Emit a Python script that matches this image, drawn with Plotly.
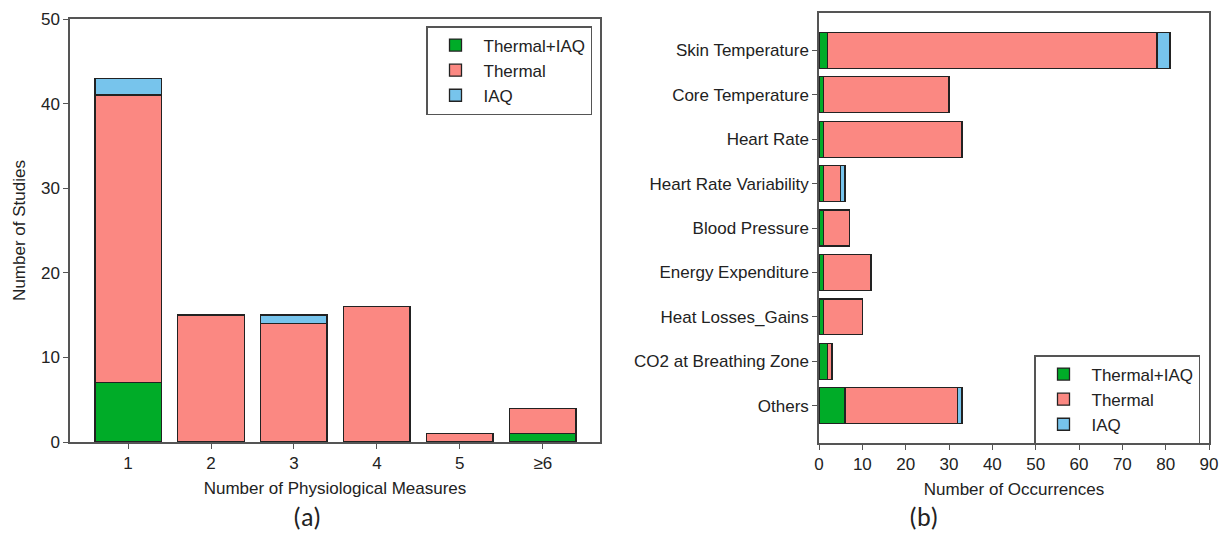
import plotly.graph_objects as go

# ---- data (a) ----
measures = ["1", "2", "3", "4", "5", "≥6"]
a_thermal_iaq = [7, 0, 0, 0, 0, 1]
a_thermal = [34, 15, 14, 16, 1, 3]
a_iaq = [2, 0, 1, 0, 0, 0]

# ---- data (b) ----
signals = ["Skin Temperature", "Core Temperature", "Heart Rate", "Heart Rate Variability",
           "Blood Pressure", "Energy Expenditure", "Heat Losses_Gains",
           "CO2 at Breathing Zone", "Others"]
b_thermal_iaq = [2, 1, 1, 1, 1, 1, 1, 2, 6]
b_thermal = [76, 29, 32, 4, 6, 11, 9, 1, 26]
b_iaq = [3, 0, 0, 1, 0, 0, 0, 0, 1]

series_names = ["Thermal+IAQ", "Thermal", "IAQ"]
colors = ["#00AC28", "#FB8882", "#77C4EC"]
edge = dict(color="#222222", width=1.3)

W, H = 1223, 535
FONT = "Liberation Sans, Arial, sans-serif"
TXT = "#222222"

fig = go.Figure()
for name, vals, col in zip(series_names, [a_thermal_iaq, a_thermal, a_iaq], colors):
    fig.add_trace(go.Bar(x=measures, y=vals, name=name, marker=dict(color=col, line=edge),
                         xaxis="x", yaxis="y", legend="legend", width=0.8))
for name, vals, col in zip(series_names, [b_thermal_iaq, b_thermal, b_iaq], colors):
    fig.add_trace(go.Bar(y=signals, x=vals, name=name, orientation="h",
                         marker=dict(color=col, line=edge),
                         xaxis="x2", yaxis="y2", legend="legend2", width=0.81))

axcommon = dict(showline=True, linecolor="#555555", linewidth=1.5, mirror=True,
                ticks="outside", ticklen=5, tickcolor="#555555", showgrid=False,
                zeroline=False, automargin=False,
                tickfont=dict(family=FONT, size=17, color=TXT))
title_font = dict(family=FONT, size=17, color=TXT)

legend_common = dict(xanchor="right", yanchor="top", bgcolor="white",
                     bordercolor="#555555", borderwidth=1.5, traceorder="normal",
                     font=dict(family=FONT, size=17, color=TXT),
                     itemwidth=46)

fig.update_layout(
    width=W, height=H, barmode="stack", bargap=0.2,
    margin=dict(l=0, r=0, t=0, b=0, autoexpand=False),
    plot_bgcolor="white", paper_bgcolor="white",
    font=dict(family=FONT, color=TXT),
    xaxis=dict(domain=[70 / W, 600 / W], anchor="y", type="category",
               range=[-0.70, 5.69],
               title=dict(text="Number of Physiological Measures", standoff=10, font=title_font),
               **axcommon),
    yaxis=dict(domain=[1 - 442 / H, 1 - 19 / H], anchor="x", range=[0, 50],
               dtick=10,
               title=dict(text="Number of Studies", standoff=11, font=title_font),
               **axcommon),
    xaxis2=dict(domain=[819 / W, 1209 / W], anchor="y2", range=[0, 90], dtick=10,
                title=dict(text="Number of Occurrences", standoff=10, font=title_font),
                **axcommon),
    yaxis2=dict(domain=[1 - 443 / H, 1 - 13 / H], anchor="x2", type="category",
                categoryorder="array", categoryarray=signals,
                range=[8.84, -0.84], **axcommon),
    legend=dict(x=592 / W, y=1 - 26 / H, **legend_common),
    legend2=dict(x=1200 / W, y=1 - 355 / H, **legend_common),
    annotations=[
        dict(text="(a)", x=307 / W, y=1 - 517 / H, xref="paper", yref="paper",
             xanchor="center", yanchor="middle", showarrow=False,
             font=dict(family="Carlito, Calibri, sans-serif", size=26, color=TXT)),
        dict(text="(b)", x=923 / W, y=1 - 517 / H, xref="paper", yref="paper",
             xanchor="center", yanchor="middle", showarrow=False,
             font=dict(family="Carlito, Calibri, sans-serif", size=26, color=TXT)),
    ],
)

fig.write_html("out.html")
